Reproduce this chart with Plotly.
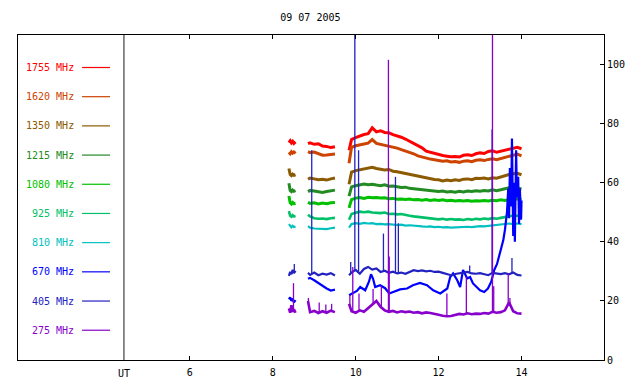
import plotly.graph_objects as go
import numpy as np

# ---------------- data ----------------
TITLE = "09 07 2005"
FREQ_LABELS = ["1755 MHz", "1620 MHz", "1350 MHz", "1215 MHz", "1080 MHz",
               "925 MHz", "810 MHz", "670 MHz", "405 MHz", "275 MHz"]
X_TICKS = [6, 8, 10, 12, 14]
Y_TICKS = [0, 20, 40, 60, 80, 100]

T_A = [8.39, 8.42, 8.45, 8.48, 8.51, 8.55]
T_B = [8.85, 8.9, 9.0, 9.1, 9.2, 9.3, 9.4, 9.5]
T_C = [9.84, 9.9, 10.0, 10.1, 10.2, 10.3, 10.4, 10.5, 10.6, 10.7, 10.8, 10.9,
       11.0, 11.1, 11.2, 11.3, 11.4, 11.5, 11.6, 11.7, 11.8, 11.9, 12.0, 12.1,
       12.2, 12.3, 12.4, 12.5, 12.6, 12.7, 12.8, 12.9, 13.0, 13.1, 13.2, 13.3,
       13.4, 13.5, 13.6, 13.7, 13.8, 13.9, 14.0]

# 1755 MHz
F1755_A = [73.6, 74.2, 73.5, 74.0, 73.3, 73.8]
F1755_B = [73.2, 73.5, 73.0, 73.2, 72.4, 72.3, 71.9, 72.2]
F1755_C = [71.0, 74.6, 75.3, 75.9, 76.3, 76.6, 78.6, 77.2, 77.6, 77.0, 76.9, 76.3,
           75.9, 75.4, 74.8, 74.0, 73.3, 72.4, 71.8, 70.7, 70.3, 69.9, 69.6, 69.2,
           69.0, 68.8, 68.9, 68.7, 69.3, 69.5, 69.2, 69.8, 70.1, 69.9, 70.6, 70.8,
           70.3, 70.6, 70.9, 71.3, 71.7, 72.0, 71.5]
# 1620 MHz
F1620_A = [70.3, 69.8, 70.5, 70.0, 70.4, 69.9]
F1620_B = [70.5, 70.2, 70.4, 69.8, 69.3, 69.4, 69.5, 69.7]
F1620_C = [66.6, 72.0, 72.5, 72.9, 73.1, 73.4, 74.6, 73.3, 73.0, 72.6, 72.4, 71.9,
           71.7, 71.2, 70.8, 70.2, 69.8, 69.1, 68.7, 68.4, 68.0, 67.8, 67.6, 67.3,
           67.4, 67.0, 67.2, 66.9, 67.3, 67.4, 67.1, 67.6, 67.8, 67.5, 67.9, 68.1,
           67.8, 68.2, 68.7, 69.0, 69.5, 69.7, 69.1]
# 1350 MHz
F1350_A = [64.8, 62.8, 62.4, 62.9, 62.5, 62.7]
F1350_B = [61.2, 61.6, 61.3, 61.0, 61.2, 60.9, 61.3, 61.6]
F1350_C = [59.5, 63.6, 64.1, 64.4, 64.6, 64.9, 65.2, 64.8, 64.6, 64.3, 64.5, 63.9,
           63.7, 63.4, 63.2, 62.8, 62.6, 62.1, 61.9, 61.5, 61.3, 61.1, 61.0, 60.6,
           60.9, 60.7, 61.0, 60.8, 61.2, 61.3, 61.0, 61.5, 61.4, 61.6, 61.3, 61.7,
           61.5, 62.0, 62.4, 62.8, 63.0, 63.2, 62.7]
# 1215 MHz
F1215_A = [59.8, 57.4, 57.0, 57.5, 57.1, 57.3]
F1215_B = [57.0, 57.4, 57.2, 56.9, 56.7, 57.0, 57.2, 57.5]
F1215_C = [55.5, 58.6, 59.0, 59.4, 59.6, 59.3, 59.5, 59.2, 59.0, 59.3, 58.8, 58.9,
           58.6, 58.4, 58.5, 58.1, 58.0, 57.8, 57.6, 57.5, 57.3, 57.1, 57.0, 57.2,
           56.9, 57.0, 56.8, 57.1, 56.9, 57.2, 57.0, 57.3, 57.1, 57.4, 57.2, 57.6,
           57.3, 57.6, 57.9, 58.3, 58.1, 58.2, 57.9]
# 1080 MHz
F1080_A = [55.5, 53.2, 52.8, 53.3, 52.9, 53.0]
F1080_B = [53.4, 53.0, 53.2, 52.8, 53.1, 52.9, 53.2, 53.3]
F1080_C = [51.5, 54.3, 54.8, 55.0, 54.7, 55.1, 54.9, 55.0, 54.8, 54.9, 54.6, 54.7,
           54.4, 54.5, 54.3, 54.5, 54.2, 54.3, 54.1, 54.3, 54.0, 54.2, 54.0, 54.2,
           53.9, 54.1, 53.8, 54.0, 53.8, 54.0, 53.7, 53.9, 53.8, 54.0, 53.8, 54.1,
           53.9, 54.2, 54.0, 54.4, 54.6, 54.5, 54.3]
# 925 MHz
F925_A = [50.4, 48.8, 48.5, 49.0, 48.6, 48.7]
F925_B = [49.2, 48.6, 48.0, 47.8, 47.9, 47.7, 48.0, 48.1]
F925_C = [47.5, 49.4, 49.8, 50.2, 50.0, 50.2, 49.9, 49.8, 49.7, 49.9, 49.4, 49.5,
          49.3, 49.4, 49.0, 48.8, 48.6, 48.4, 48.3, 48.1, 47.9, 47.8, 47.6, 47.8,
          47.5, 47.7, 47.5, 47.6, 47.4, 47.7, 47.5, 47.8, 47.6, 47.9, 47.7, 48.0,
          47.8, 48.1, 48.3, 48.7, 48.9, 48.8, 48.6]
# 810 MHz
F810_A = [46.0, 45.3, 44.9, 45.4, 45.0, 45.2]
F810_B = [45.3, 44.8, 44.5, 44.4, 44.5, 44.3, 44.6, 44.8]
F810_C = [44.8, 46.0, 46.3, 46.1, 46.4, 46.2, 46.3, 46.0, 46.1, 45.9, 46.0, 45.8,
          45.7, 45.8, 45.5, 45.6, 45.4, 45.3, 45.2, 45.1, 45.2, 45.0, 45.1, 44.9,
          45.0, 44.8, 44.9, 44.8, 45.0, 45.1, 45.0, 45.2, 45.3, 45.2, 45.4, 45.5,
          45.6, 45.8, 46.1, 46.2, 46.0, 46.2, 46.0]
# 670 MHz (own time base in the last segment)
F670_A = [20.5, 21.2, 20.0, 20.8, 19.5, 20.3]
F670_B = [27.5, 27.8, 27.0, 26.0, 25.3, 24.2, 23.5, 23.8]
T670_C = [9.84, 9.94, 10.03, 10.11, 10.23, 10.32, 10.37, 10.42, 10.47, 10.59,
          10.71, 10.81, 10.90, 11.07, 11.24, 11.38, 11.55, 11.72, 11.87, 12.04,
          12.21, 12.28, 12.35, 12.45, 12.52, 12.59, 12.69, 12.76, 12.83, 12.93,
          13.00, 13.10, 13.19, 13.27, 13.34, 13.41, 13.48, 13.56, 13.60, 13.65,
          13.68, 13.70, 13.72, 13.75, 13.77, 13.80, 13.82, 13.84, 13.87, 13.89,
          13.92, 13.94, 13.96, 13.99, 14.0]
F670_C = [21.9, 22.6, 23.4, 24.7, 23.6, 26.5, 29.0, 27.5, 24.7, 25.3,
          24.3, 22.5, 23.0, 23.9, 24.2, 25.3, 26.1, 25.3, 23.6, 22.5,
          24.2, 28.1, 29.3, 27.0, 24.7, 30.5, 27.6, 28.1, 25.9, 24.7,
          23.6, 23.0, 24.2, 26.5, 30.4, 32.5, 36.0, 40.5, 44.0, 50.0,
          58.0, 48.0, 65.0, 52.0, 75.0, 42.0, 60.0, 40.0, 71.0, 55.0,
          62.0, 46.0, 58.0, 47.5, 54.0]
# 405 MHz
F405_A = [28.5, 29.8, 29.0, 30.5, 29.4, 30.2]
F405_B = [29.5, 28.8, 29.6, 28.7, 29.2, 28.9, 29.4, 28.6]
F405_C = [28.7, 29.6, 30.5, 29.2, 30.8, 31.5, 30.6, 31.0, 29.8, 30.2, 29.5, 29.9,
          29.3, 29.6, 29.2, 29.8, 30.4, 30.1, 30.3, 30.0, 30.2, 29.8, 29.9, 29.5,
          29.0, 28.7, 29.1, 29.3, 29.6, 29.8, 29.3, 29.2, 29.4, 29.0, 28.7, 29.5,
          29.3, 29.1, 29.4, 29.0, 29.6, 28.8, 28.6]
# 275 MHz
F275_A = [17.5, 16.0, 18.5, 16.3, 17.2, 16.0]
F275_B = [20.0, 16.2, 16.6, 15.9, 16.5, 16.0, 16.7, 16.2]
F275_C = [19.0, 16.5, 16.0, 16.8, 16.3, 17.5, 19.0, 20.0, 18.0, 16.8, 16.3, 16.6,
          16.1, 16.5, 16.2, 16.4, 16.0, 16.2, 15.8, 16.1, 15.9, 15.7, 15.3, 15.0,
          14.8, 14.9, 15.3, 15.6, 15.4, 15.8, 15.5, 15.7, 15.6, 15.9, 15.7, 16.3,
          16.0, 16.2, 16.8, 19.5, 16.5, 15.8, 15.7]

# short spikes (time, peak value)
SPK405_T = [8.52, 8.94, 9.88, 9.98, 10.07, 10.67, 10.96, 11.03, 12.75, 13.29, 13.77]
SPK405_V = [32.5, 71.0, 33.2, 115.0, 71.0, 42.8, 62.0, 46.3, 32.0, 78.0, 34.5]
SPK275_T = [8.50, 8.86, 9.12, 9.28, 9.42, 9.86, 9.93, 10.08, 10.42, 10.62, 10.79,
            10.81, 12.20, 12.67, 13.30, 13.33, 13.68, 13.72]
SPK275_V = [26.0, 21.0, 19.5, 18.8, 19.0, 22.0, 31.5, 22.5, 24.0, 25.0, 101.6,
            35.0, 22.5, 28.1, 115.0, 25.0, 29.3, 21.0]

COLORS = ["#ff0000", "#cc4400", "#8c5a00", "#228b22", "#00c000",
          "#00c068", "#00c0c0", "#0000ff", "#2222c0", "#8800cc"]

# ---------------- figure ----------------
def join(segs):
    xs, ys = [], []
    for k, (t, v) in enumerate(segs):
        if k:
            xs.append(None); ys.append(None)
        xs += list(t); ys += list(v)
    return xs, ys

series = [
    [(T_A, F1755_A), (T_B, F1755_B), (T_C, F1755_C)],
    [(T_A, F1620_A), (T_B, F1620_B), (T_C, F1620_C)],
    [(T_A, F1350_A), (T_B, F1350_B), (T_C, F1350_C)],
    [(T_A, F1215_A), (T_B, F1215_B), (T_C, F1215_C)],
    [(T_A, F1080_A), (T_B, F1080_B), (T_C, F1080_C)],
    [(T_A, F925_A), (T_B, F925_B), (T_C, F925_C)],
    [(T_A, F810_A), (T_B, F810_B), (T_C, F810_C)],
    [(T_A, F670_A), (T_B, F670_B), (T670_C, F670_C)],
    [(T_A, F405_A), (T_B, F405_B), (T_C, F405_C)],
    [(T_A, F275_A), (T_B, F275_B), (T_C, F275_C)],
]
spikes = {8: (SPK405_T, SPK405_V), 9: (SPK275_T, SPK275_V)}
WIDTHS = [3, 3, 3, 3, 3, 2.6, 2.2, 2.2, 2.2, 2.6]

fig = go.Figure()
for i, segs in enumerate(series):
    xs, ys = join(segs)
    fig.add_trace(go.Scatter(x=xs, y=ys, mode="lines", name=FREQ_LABELS[i],
                             line=dict(color=COLORS[i], width=WIDTHS[i]),
                             showlegend=False, hoverinfo="skip"))
    if i in spikes:
        st, sv = spikes[i]
        allt = [t for s in segs for t in s[0]]
        allv = [v for s in segs for v in s[1]]
        sx, sy = [], []
        for t, v in zip(st, sv):
            base = float(np.interp(t, allt, allv))
            sx += [t, t, None]; sy += [base, v, None]
        fig.add_trace(go.Scatter(x=sx, y=sy, mode="lines",
                                 line=dict(color=COLORS[i], width=1.3),
                                 showlegend=False, hoverinfo="skip"))

FONT = "DejaVu Sans Mono"
X0, X1 = 1.855, 15.99
UT_X = 4.41
LEG_TEXT_X, LEG_L0, LEG_L1 = 3.255, 3.40, 4.075
shapes = [dict(type="line", xref="x", yref="paper", x0=UT_X, x1=UT_X, y0=0, y1=1,
               line=dict(color="#666666", width=1.5))]
annotations = []
for i, lab in enumerate(FREQ_LABELS):
    yv = 99.0 - 9.88 * i
    annotations.append(dict(x=LEG_TEXT_X, y=yv, xref="x", yref="y", text=lab,
                            showarrow=False, xanchor="right", yanchor="middle",
                            font=dict(family=FONT, size=10, color=COLORS[i])))
    shapes.append(dict(type="line", xref="x", yref="y", x0=LEG_L0, x1=LEG_L1,
                       y0=yv, y1=yv, line=dict(color=COLORS[i], width=1.2)))
annotations.append(dict(x=UT_X, y=0, xref="x", yref="paper", text="UT",
                        showarrow=False, xanchor="center", yanchor="middle",
                        yshift=-13,
                        font=dict(family=FONT, size=10, color="black")))

W, H = 640, 384
fig.update_layout(
    width=W, height=H, autosize=False,
    margin=dict(l=18, r=36, t=35, b=24, autoexpand=False),
    paper_bgcolor="white", plot_bgcolor="white",
    title=dict(text=TITLE, x=0.485, xanchor="center", y=1 - 17 / H,
               yanchor="middle", font=dict(family=FONT, size=10, color="black")),
    shapes=shapes, annotations=annotations, showlegend=False,
    xaxis=dict(range=[X0, X1], tickvals=X_TICKS, ticks="inside", ticklen=4,
               tickcolor="black", showline=True, linecolor="black", linewidth=1,
               mirror="ticks", showgrid=False, zeroline=False, automargin=False,
               ticklabelstandoff=3,
               tickfont=dict(family=FONT, size=10, color="black")),
    yaxis=dict(range=[0, 110], tickvals=Y_TICKS, side="right", ticks="inside",
               ticklen=4, tickcolor="black", showline=True, linecolor="black",
               linewidth=1, mirror=True, showgrid=False, zeroline=False,
               automargin=False,
               tickfont=dict(family=FONT, size=10, color="black")),
)

fig.write_html("out.html",
               config={"displayModeBar": False, "staticPlot": True},
               post_script="document.body.style.margin='0';"
                           "document.body.style.overflow='hidden';")
